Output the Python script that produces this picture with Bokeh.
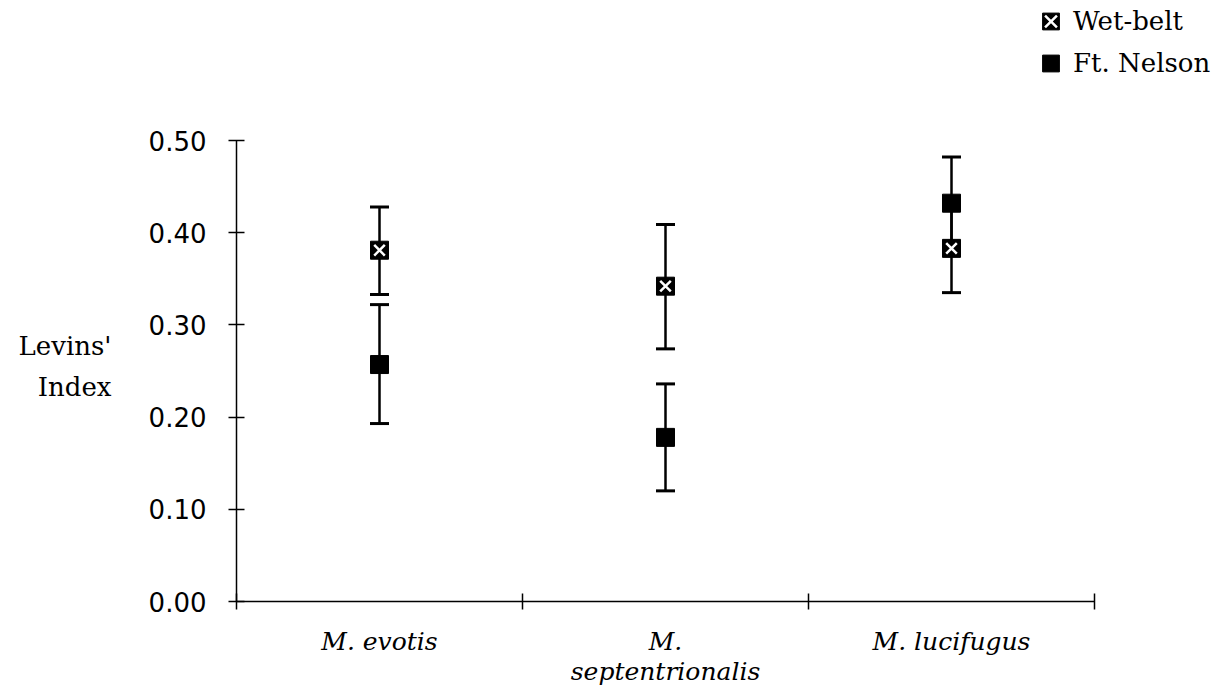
from bokeh.plotting import figure
from bokeh.models import (Range1d, FixedTicker, ColumnDataSource, Whisker, TeeHead,
                          Legend, LegendItem, NumeralTickFormatter, LinearAxis)
from bokeh.embed import file_html
from bokeh.resources import INLINE

# ---- data ----
categories = ["M. evotis", "M.\nseptentrionalis", "M. lucifugus"]
wet_mean = [0.381, 0.342, 0.383]
wet_lower = [0.333, 0.274, 0.335]
wet_upper = [0.428, 0.409, 0.431]
ft_mean = [0.257, 0.178, 0.432]
ft_lower = [0.193, 0.120, 0.383]
ft_upper = [0.322, 0.236, 0.482]
y_ticks = [0.0, 0.1, 0.2, 0.3, 0.4, 0.5]
series_names = ["Wet-belt", "Ft. Nelson"]
y_title = ["Levins'", "Index"]

n = len(categories)
xs = [i + 0.5 for i in range(n)]
bounds = [float(i) for i in range(n + 1)]
y_max = y_ticks[-1]

# layout (pixels)
AX_W = 858      # width of the category axis
AX_H = 461      # height of the 0-0.5 value axis
FRAME_W = 976   # frame extends right to hold the legend
FRAME_H = 601   # frame extends up to hold the legend

p = figure(frame_width=FRAME_W, frame_height=FRAME_H,
           x_range=Range1d(0, n * FRAME_W / AX_W),
           y_range=Range1d(0, y_max * FRAME_H / AX_H),
           output_backend="svg", toolbar_location=None,
           min_border_left=236, min_border_top=0, min_border_right=0,
           min_border_bottom=82)
p.xgrid.visible = False
p.ygrid.visible = False
p.outline_line_color = None
p.background_fill_color = "white"
p.border_fill_color = "white"

# y axis
ya = p.yaxis[0]
ya.bounds = (0, y_max)
ya.ticker = FixedTicker(ticks=y_ticks, minor_ticks=[])
ya.formatter = NumeralTickFormatter(format="0.00")
ya.major_tick_in = 8
ya.major_tick_out = 8
ya.minor_tick_in = 0
ya.minor_tick_out = 0
ya.axis_line_width = 1.5
ya.axis_line_color = "black"
ya.major_tick_line_color = "black"
ya.major_tick_line_width = 1.5
ya.major_label_text_font = "DejaVu Sans"
ya.major_label_text_font_size = "26px"
ya.major_label_text_color = "black"
ya.major_label_standoff = 22

# y title as a label-only axis further left
title_text = "\n".join(y_title)
ty = 0.255
t_axis = LinearAxis(ticker=FixedTicker(ticks=[ty], minor_ticks=[]),
                    major_label_overrides={ty: title_text, str(ty): title_text},
                    axis_line_color=None, major_tick_line_color=None,
                    minor_tick_line_color=None, major_tick_out=0, major_tick_in=0,
                    minor_tick_out=0, minor_tick_in=0,
                    major_label_standoff=34,
                    major_label_text_font="DejaVu Serif",
                    major_label_text_font_size="26px",
                    major_label_text_color="black",
                    major_label_text_line_height=1.35)
p.add_layout(t_axis, "left")

# x axis
xa = p.xaxis[0]
xa.bounds = (0, n)
xa.ticker = FixedTicker(ticks=xs, minor_ticks=bounds)
overrides = {}
for x, c in zip(xs, categories):
    overrides[x] = c
    overrides[str(x)] = c
xa.major_label_overrides = overrides
xa.major_tick_in = 0
xa.major_tick_out = 0
xa.minor_tick_in = 8
xa.minor_tick_out = 8
xa.minor_tick_line_color = "black"
xa.minor_tick_line_width = 1.5
xa.axis_line_width = 1.5
xa.axis_line_color = "black"
xa.major_label_text_font = "DejaVu Serif"
xa.major_label_text_font_style = "italic"
xa.major_label_text_font_size = "25px"
xa.major_label_text_color = "black"
xa.major_label_text_line_height = 1.05
xa.major_label_standoff = 17

# error bars
src_w = ColumnDataSource(dict(x=xs, mean=wet_mean, lower=wet_lower, upper=wet_upper))
src_f = ColumnDataSource(dict(x=xs, mean=ft_mean, lower=ft_lower, upper=ft_upper))
for src in (src_w, src_f):
    w = Whisker(base="x", upper="upper", lower="lower", source=src,
                line_width=2.5, line_color="black",
                upper_head=TeeHead(size=19, line_width=3, line_color="black"),
                lower_head=TeeHead(size=19, line_width=3, line_color="black"))
    p.add_layout(w)

r_fn = p.scatter("x", "mean", source=src_f, marker="square", size=18,
                 fill_color="black", line_color="black")
r_wb_sq = p.scatter("x", "mean", source=src_w, marker="square", size=18,
                    fill_color="black", line_color="black")
r_wb_x = p.scatter("x", "mean", source=src_w, marker="x", size=15,
                   line_color="white", line_width=2.5)

legend = Legend(items=[LegendItem(label=series_names[0], renderers=[r_wb_sq, r_wb_x]),
                       LegendItem(label=series_names[1], renderers=[r_fn])],
                location=(792, 517), orientation="vertical",
                glyph_width=45, glyph_height=42, label_standoff=0, spacing=0,
                padding=0, margin=0, border_line_color=None,
                background_fill_alpha=0,
                label_text_font="DejaVu Serif", label_text_font_size="26px",
                label_text_color="black")
p.add_layout(legend)

open("out.html", "w").write(file_html(p, INLINE))
